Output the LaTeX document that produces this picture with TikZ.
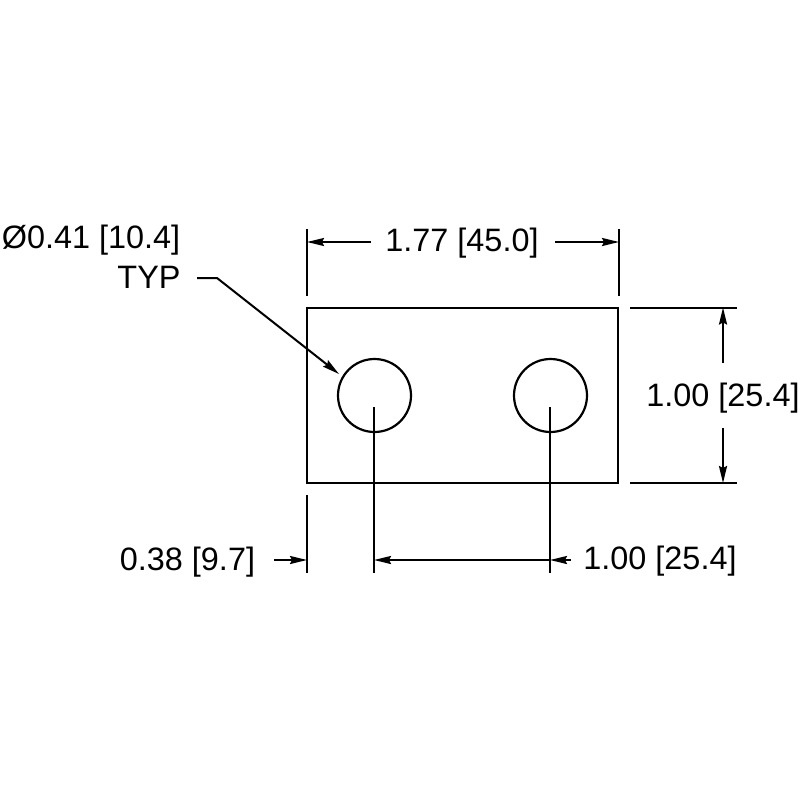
\documentclass[tikz,border=0pt]{standalone}
\usepackage{fontspec}
\setmainfont{Liberation Sans}
\usetikzlibrary{arrows.meta}
\tikzset{
  part/.style={draw=black,line width=2.2pt,outer sep=0pt},
  ext/.style={draw=black,line width=2pt},
  dim/.style={draw=black,line width=2pt,-{Stealth[length=17pt,width=8pt,inset=2pt]}},
  lbl/.style={font=\fontsize{32.4}{35}\selectfont,text=black,inner sep=0pt,anchor=base}
}
\begin{document}
\begin{tikzpicture}[x=1pt,y=-1pt]
\useasboundingbox[fill=white] (0,0) rectangle (800,800);
% part
\node[part,minimum width=311pt,minimum height=175pt,inner sep=0pt,anchor=north west] (plate) at (307,308) {};
\node[part,circle,minimum size=73pt,inner sep=0pt] (holeL) at (374.5,395.5) {};
\node[part,circle,minimum size=73pt,inner sep=0pt] (holeR) at (550.5,395.5) {};
% labels
\node[lbl] (w) at (462,251) {1.77 [45.0]};
\node[lbl] (h) at (723,406) {1.00 [25.4]};
\node[lbl] (dia) at (91,248) {Ø0.41 [10.4]};
\node[lbl] (typ) at (149,288) {TYP};
\node[lbl] (edge) at (187.5,570) {0.38 [9.7]};
\node[lbl] (pitch) at (660,569) {1.00 [25.4]};
% width dimension
\coordinate (wa) at (307,229); \coordinate (wb) at (307,296);
\coordinate (wc) at (619,229); \coordinate (wd) at (619,296);
\coordinate (wl) at (371,242); \coordinate (wla) at (307,242);
\coordinate (wr) at (555,242); \coordinate (wra) at (619,242);
\draw[ext] (wa) -- (wb);
\draw[ext] (wc) -- (wd);
\draw[dim] (wl) -- (wla);
\draw[dim] (wr) -- (wra);
% height dimension
\coordinate (ha) at (630,307.5); \coordinate (hb) at (737,307.5);
\coordinate (hc) at (630,483); \coordinate (hd) at (737,483);
\coordinate (ht) at (723,363); \coordinate (hta) at (723,307.5);
\coordinate (hu) at (723,428); \coordinate (hua) at (723,483);
\draw[ext] (ha) -- (hb);
\draw[ext] (hc) -- (hd);
\draw[dim] (ht) -- (hta);
\draw[dim] (hu) -- (hua);
% leader
\coordinate (l0) at (197,278); \coordinate (l1) at (217,278);
\coordinate (l2) at (339,374);
\draw[dim] (l0) -- (l1) -- (l2);
% lower extensions
\coordinate (ea) at (307,495); \coordinate (eb) at (307,573);
\coordinate (ca) at (374,407); \coordinate (cb) at (374,573);
\coordinate (da) at (550,407); \coordinate (db) at (550,573);
\draw[ext] (ea) -- (eb);
\draw[ext] (ca) -- (cb);
\draw[ext] (da) -- (db);
% bottom dimensions
\coordinate (e1) at (274,560); \coordinate (e1a) at (307,560);
\coordinate (c1) at (374,560); \coordinate (c2) at (550,560);
\coordinate (p1) at (571,560);
\draw[dim] (e1) -- (e1a);
\draw[dim] (p1) -- (c2);
\draw[dim] (c2) -- (c1);
\end{tikzpicture}
\end{document}
